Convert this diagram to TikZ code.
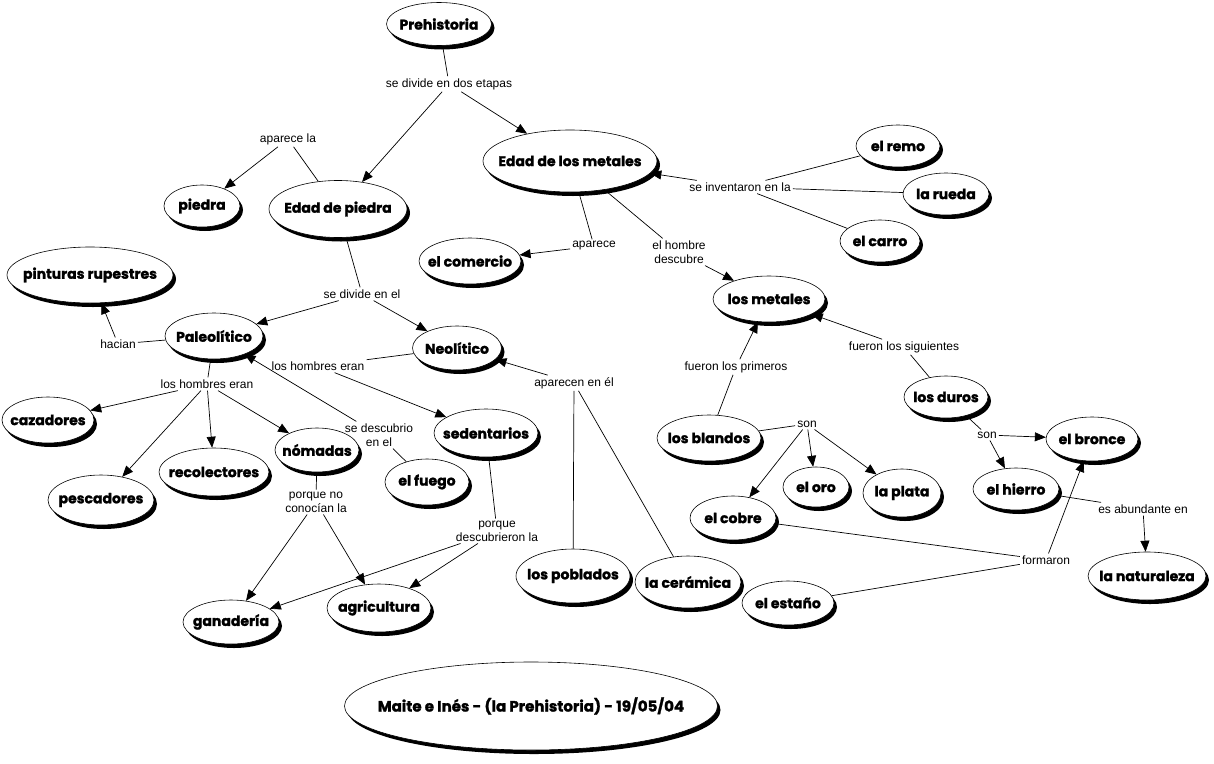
\documentclass[tikz,border=0pt]{standalone}
\usepackage{fontspec}
\setmainfont{Liberation Sans}
\newfontfamily\cmfont{Poppins}[BoldFeatures={FakeBold=1.5}]
\newcommand\ZB[1]{\makebox[0pt][c]{#1}}
\usetikzlibrary{shapes.geometric,arrows.meta,shadows}
\tikzset{
  cn/.style={ellipse, draw, line width=0.6pt, fill=white, inner sep=0pt,
    font=\cmfont\bfseries\fontsize{14}{16}\selectfont,
    drop shadow={shadow xshift=3pt, shadow yshift=-4pt, fill=black, opacity=1}},
  sz/.style 2 args={minimum width=#1pt, minimum height=#2pt},
  lb/.style={font=\fontsize{12}{14}\selectfont, inner sep=2pt, align=center},
  ln/.style={line width=0.7pt},
  ar/.style={line width=0.7pt, -{Triangle[length=11pt,width=9pt]}},
}
\begin{document}
\begin{tikzpicture}[x=1pt,y=-1pt]
\useasboundingbox (0,0) rectangle (1214,763);
% concept nodes
\node[cn, sz={105}{43}] (pre) at (439,24) {\ZB{Prehistoria}};
\node[cn, sz={174}{62}] (em) at (570,161) {\ZB{Edad de los metales}};
\node[cn, sz={138}{57}] (ep) at (338,209) {\ZB{Edad de piedra}};
\node[cn, sz={76}{42}] (pie) at (202,206) {\ZB{piedra}};
\node[cn, sz={84}{42}] (remo) at (898,146) {\ZB{el remo}};
\node[cn, sz={86}{42}] (rue) at (946,194) {\ZB{la rueda}};
\node[cn, sz={80}{42}] (car) at (880,241) {\ZB{el carro}};
\node[cn, sz={102}{46}] (com) at (470,261) {\ZB{el comercio}};
\node[cn, sz={112}{46}] (met) at (769,299) {\ZB{los metales}};
\node[cn, sz={166}{56}] (pin) at (90,275) {\ZB{pinturas rupestres}};
\node[cn, sz={98}{46}] (pal) at (214,336) {\ZB{Paleolítico}};
\node[cn, sz={89}{44}] (neo) at (457,348) {\ZB{Neolítico}};
\node[cn, sz={92}{46}] (caz) at (48,420) {\ZB{cazadores}};
\node[cn, sz={110}{48}] (rec) at (214,472) {\ZB{recolectores}};
\node[cn, sz={106}{50}] (pes) at (101,500) {\ZB{pescadores}};
\node[cn, sz={84}{44}] (nom) at (317,450) {\ZB{nómadas}};
\node[cn, sz={84}{46}] (fue) at (427,482) {\ZB{el fuego}};
\node[cn, sz={104}{48}] (sed) at (486,433) {\ZB{sedentarios}};
\node[cn, sz={104}{48}] (agr) at (379,608) {\ZB{agricultura}};
\node[cn, sz={96}{44}] (gan) at (231,622) {\ZB{ganadería}};
\node[cn, sz={114}{54}] (pob) at (573,576) {\ZB{los poblados}};
\node[cn, sz={106}{52}] (cer) at (688,582) {\ZB{la cerámica}};
\node[cn, sz={104}{46}] (bla) at (709,438) {\ZB{los blandos}};
\node[cn, sz={66}{40}] (oro) at (816,487) {\ZB{el oro}};
\node[cn, sz={78}{48}] (pla) at (902,493) {\ZB{la plata}};
\node[cn, sz={86}{44}] (cob) at (733,518) {\ZB{el cobre}};
\node[cn, sz={84}{42}] (dur) at (946,397) {\ZB{los duros}};
\node[cn, sz={92}{44}] (bro) at (1092,439) {\ZB{el bronce}};
\node[cn, sz={86}{42}] (hie) at (1016,489) {\ZB{el hierro}};
\node[cn, sz={118}{48}] (nat) at (1147,576) {\ZB{la naturaleza}};
\node[cn, sz={92}{44}] (est) at (788,603) {\ZB{el estaño}};
\node[cn, sz={373}{88}, font=\cmfont\bfseries\fontsize{15}{18}\selectfont] (tit) at (531,706) {\ZB{Maite e Inés - (la Prehistoria) - 19/05/04}};
% linking phrases
\node[lb] (l1) at (449,84) {se divide en dos etapas};
\node[lb] (l2) at (288,139) {aparece la};
\node[lb] (l3) at (740,187) {se inventaron en la};
\node[lb] (l4) at (594,246) {aparece};
\node[lb] (l5) at (679,252) {el hombre\\descubre};
\node[lb] (l6) at (362,294) {se divide en el};
\node[lb] (l7) at (118,344) {hacian};
\node[lb] (l8) at (318,366) {los hombres eran};
\node[lb] (l9) at (207,384) {los hombres eran};
\node[lb] (l10) at (379,435) {se descubrio\\en el};
\node[lb] (l11) at (316,502) {porque no\\conocían la};
\node[lb] (l12) at (497,531) {porque\\descubrieron la};
\node[lb] (l13) at (574,383) {aparecen en él};
\node[lb] (l14) at (736,367) {fueron los primeros};
\node[lb] (l15) at (904,347) {fueron los siguientes};
\node[lb] (l16) at (807,424) {son};
\node[lb] (l17) at (987,435) {son};
\node[lb] (l18) at (1143,509) {es abundante en};
\node[lb] (l19) at (1046,560) {formaron};
% connectors
\draw[ln] (pre) -- (l1);
\draw[ar] (l1) -- (ep);
\draw[ar] (l1) -- (em);
\draw[ln] (ep) -- (l2);
\draw[ar] (l2) -- (pie);
\draw[ln] (ep) -- (l6);
\draw[ar] (l6) -- (pal);
\draw[ar] (l6) -- (neo);
\draw[ln] (pal) -- (l7);
\draw[ar] (l7) -- (pin);
\draw[ln] (pal) -- (l9);
\draw[ar] (l9) -- (caz);
\draw[ar] (l9) -- (pes);
\draw[ar] (l9) -- (rec);
\draw[ar] (l9) -- (nom);
\draw[ln] (neo) -- (l8);
\draw[ar] (l8) -- (sed);
\draw[ln] (fue) -- (l10);
\draw[ar] (l10) -- (pal);
\draw[ln] (nom) -- (l11);
\draw[ar] (l11) -- (gan);
\draw[ar] (l11) -- (agr);
\draw[ln] (sed) -- (l12);
\draw[ar] (l12) -- (gan);
\draw[ar] (l12) -- (agr);
\draw[ln] (pob) -- (l13);
\draw[ln] (cer) -- (l13);
\draw[ar] (l13) -- (neo);
\draw[ln] (em) -- (l4);
\draw[ar] (l4) -- (com);
\draw[ln] (em) -- (l5);
\draw[ar] (l5) -- (met);
\draw[ln] (remo) -- (l3);
\draw[ln] (rue) -- (l3);
\draw[ln] (car) -- (l3);
\draw[ar] (l3) -- (em);
\draw[ln] (bla) -- (l14);
\draw[ar] (l14) -- (met);
\draw[ln] (dur) -- (l15);
\draw[ar] (l15) -- (met);
\draw[ln] (bla) -- (l16);
\draw[ar] (l16) -- (cob);
\draw[ar] (l16) -- (oro);
\draw[ar] (l16) -- (pla);
\draw[ln] (dur) -- (l17);
\draw[ar] (l17) -- (bro);
\draw[ar] (l17) -- (hie);
\draw[ln] (hie) -- (l18);
\draw[ar] (l18) -- (nat);
\draw[ln] (cob) -- (l19);
\draw[ln] (est) -- (l19);
\draw[ar] (l19) -- (bro);
\end{tikzpicture}
\end{document}
